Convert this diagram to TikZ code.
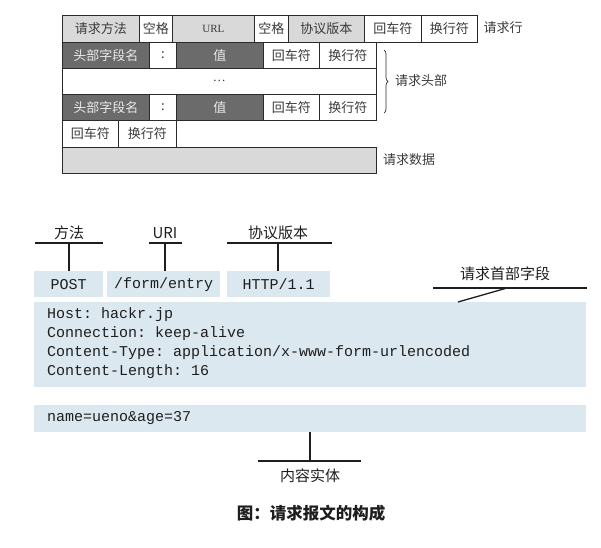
\documentclass[tikz,border=0pt]{standalone}
\usepackage{fontspec}
\setmainfont{Liberation Serif}
\setmonofont{Liberation Mono}
\newfontfamily\cjk{Noto Sans CJK SC}
\usetikzlibrary{decorations.pathreplacing}
\definecolor{lg}{HTML}{D9D9D9}
\definecolor{dg}{HTML}{6B6B6B}
\definecolor{lb}{HTML}{DCE8F0}
\definecolor{bd}{HTML}{2B2B2B}
\definecolor{tx}{HTML}{3A3A3A}
\definecolor{ln}{HTML}{1E1E1E}
\newcommand\tcell[7]{\node[cell,#6,minimum width=#4pt-#2pt,minimum height=#5pt-#3pt] (#1) at (#2,#3) {#7};}
\begin{document}
\begin{tikzpicture}[x=1pt,y=-1pt,
  cell/.style={draw=bd,line width=0.8pt,anchor=north west,inner sep=0pt,font=\cjk\fontsize{13}{13}\selectfont,text=tx},
  lgc/.style={fill=lg},
  dgc/.style={fill=dg,text=white!92!black},
  wc/.style={fill=white},
  side/.style={font=\cjk\fontsize{13}{13}\selectfont,text=tx,inner sep=0pt},
  lbl/.style={font=\cjk\fontsize{15}{15}\selectfont,text=ln,inner sep=0pt},
  box/.style={fill=lb,draw=none,anchor=north west,inner sep=0pt},
  mono/.style={font=\ttfamily\fontsize{15}{15}\selectfont,text=ln,inner sep=0pt},
  tick/.style={draw=ln,line width=1.3pt}]
\useasboundingbox (0,0) rectangle (601,547);
% ---- top table ----
\tcell{r1a}{62}{15}{139}{42}{lgc}{请求方法}
\tcell{r1b}{139}{15}{172}{42}{wc}{空格}
\tcell{r1c}{172}{15}{254}{42}{lgc}{\rmfamily\fontsize{11}{11}\selectfont URL}
\tcell{r1d}{254}{15}{288}{42}{wc}{空格}
\tcell{r1e}{288}{15}{364}{42}{lgc}{协议版本}
\tcell{r1f}{364}{15}{421}{42}{wc}{回车符}
\tcell{r1g}{421}{15}{477}{42}{wc}{换行符}
\tcell{r2a}{62}{42}{149}{68}{dgc}{头部字段名}
\tcell{r2b}{149}{42}{176}{68}{wc}{:}
\tcell{r2c}{176}{42}{263}{68}{dgc}{值}
\tcell{r2d}{263}{42}{319}{68}{wc}{回车符}
\tcell{r2e}{319}{42}{376}{68}{wc}{换行符}
\tcell{r3}{62}{68}{376}{94}{wc}{\rmfamily …}
\tcell{r4a}{62}{94}{149}{120}{dgc}{头部字段名}
\tcell{r4b}{149}{94}{176}{120}{wc}{:}
\tcell{r4c}{176}{94}{263}{120}{dgc}{值}
\tcell{r4d}{263}{94}{319}{120}{wc}{回车符}
\tcell{r4e}{319}{94}{376}{120}{wc}{换行符}
\tcell{r5a}{62}{120}{118}{147}{wc}{回车符}
\tcell{r5b}{118}{120}{176}{147}{wc}{换行符}
\tcell{r6}{62}{147}{376}{173}{lgc}{}
\node[side] (lrow) at (503,28) {请求行};
\coordinate (bt) at (384,50);
\coordinate (bb) at (384,113);
\draw[draw=bd,line width=0.7pt,decorate,decoration={brace,amplitude=4pt}] (bt) -- (bb);
\node[side] (lhead) at (421,81) {请求头部};
\node[side] (ldata) at (409,160) {请求数据};
% ---- bottom ----
\node[box,minimum width=69pt,minimum height=26pt] (post) at (34,271) {};
\node[mono] at (post.center) {POST};
\node[box,minimum width=113pt,minimum height=26pt] (uri) at (107,271) {};
\node[mono] at (uri.center) {/form/entry};
\node[box,minimum width=103pt,minimum height=26pt] (ver) at (227,271) {};
\node[mono] at (ver.center) {HTTP/1.1};
\node[box,minimum width=552pt,minimum height=85pt] (hdr) at (34,302) {};
\node[mono,anchor=west] (h1) at (47,315) {Host: hackr.jp};
\node[mono,anchor=west] (h2) at (47,334) {Connection: keep-alive};
\node[mono,anchor=west] (h3) at (47,353) {Content-Type: application/x-www-form-urlencoded};
\node[mono,anchor=west] (h4) at (47,372) {Content-Length: 16};
\node[box,minimum width=552pt,minimum height=27pt] (body) at (34,405) {};
\node[mono,anchor=west] (b1) at (47,418) {name=ueno\&age=37};
% labels
\node[lbl] (lm) at (69,233) {方法};
\node[lbl] (lu) at (165,233) {URI};
\node[lbl] (lv) at (278,233) {协议版本};
\coordinate (m0) at (69,243);
\coordinate (u0) at (165,243);
\coordinate (v0) at (278,243);
\draw[tick] (35,243) -- (103,243);
\draw[tick] (149,243) -- (182,243);
\draw[tick] (227,243) -- (332,243);
\draw[tick] (m0) -- (m0 |- post.north);
\draw[tick] (u0) -- (u0 |- uri.north);
\draw[tick] (v0) -- (v0 |- ver.north);
\node[lbl] (lh) at (505,274) {请求首部字段};
\coordinate (hj) at (507,288);
\coordinate (ht) at (458,302);
\draw[tick] (433,288) -- (587,288);
\draw[tick] (hj) -- (ht);
\coordinate (ej) at (310,461);
\draw[tick] (body.south -| ej) -- (ej);
\draw[tick] (258,461) -- (361,461);
\node[lbl] (le) at (310,476) {内容实体};
\node[font=\cjk\bfseries\fontsize{16.5}{16.5}\selectfont,text=ln,inner sep=0pt] (cap) at (311,513) {图：请求报文的构成};
\end{tikzpicture}
\end{document}
